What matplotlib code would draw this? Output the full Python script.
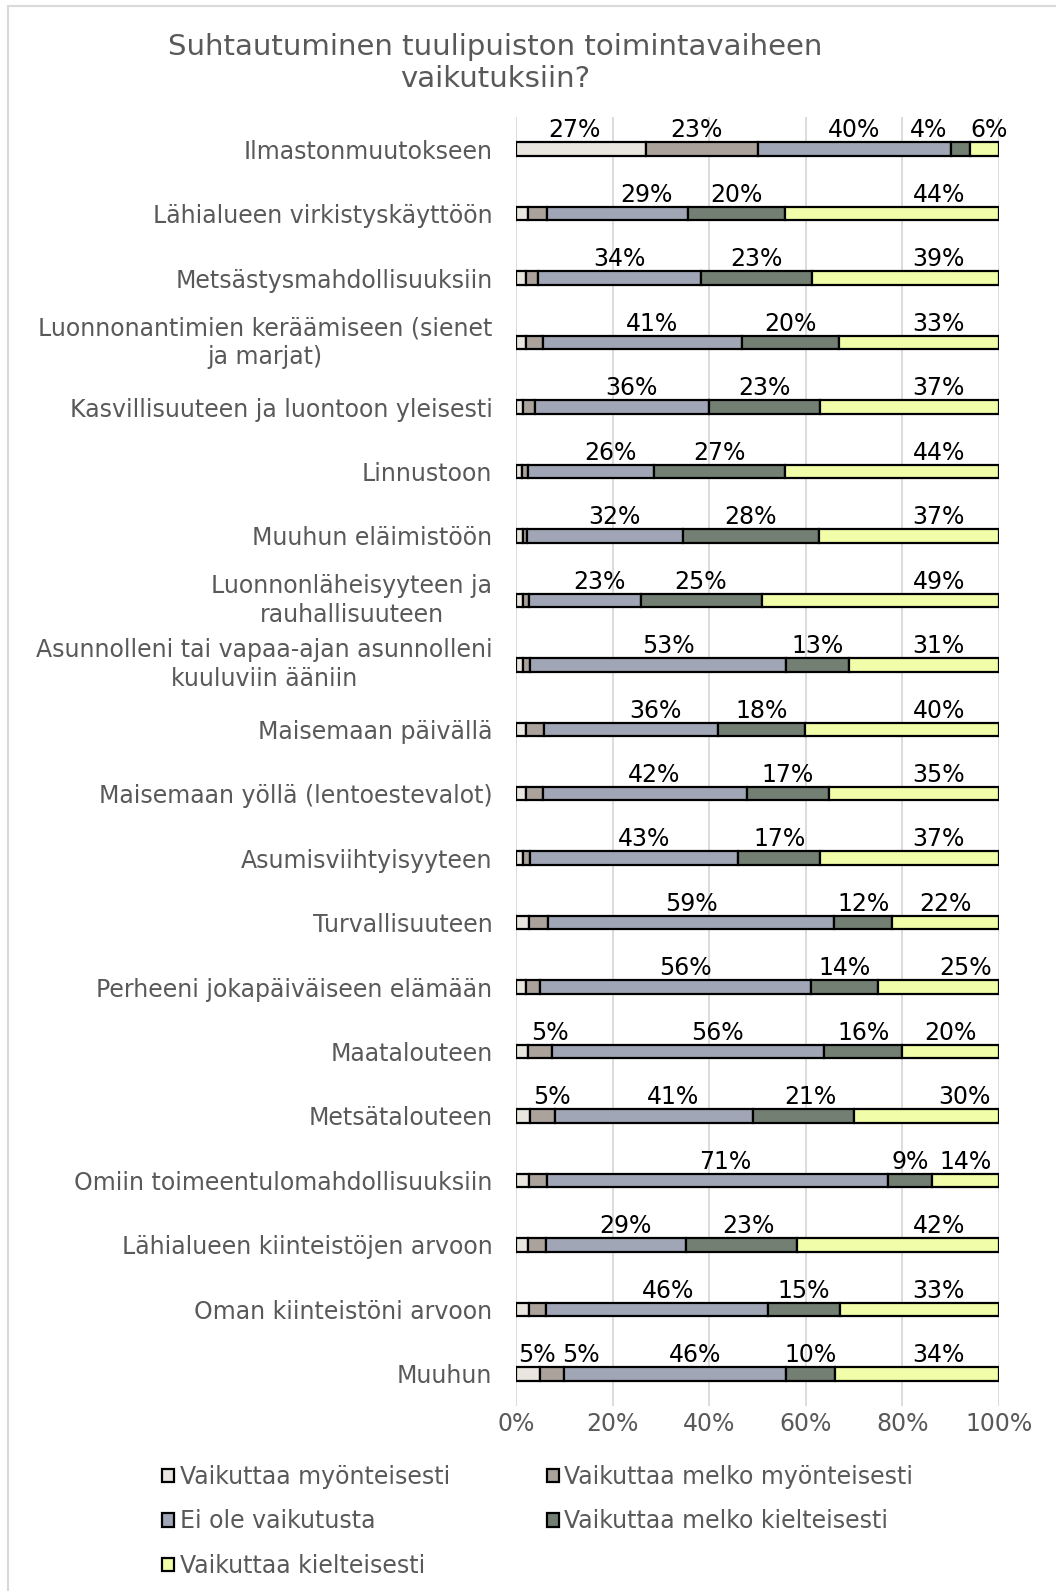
import matplotlib
matplotlib.use("Agg")
import matplotlib.pyplot as plt
from matplotlib.patches import Patch, Rectangle

plt.rcParams['font.family'] = ['DejaVu Sans']

# categories, top to bottom
categories = [
    "Ilmastonmuutokseen",
    "Lähialueen virkistyskäyttöön",
    "Metsästysmahdollisuuksiin",
    "Luonnonantimien keräämiseen (sienet\nja marjat)",
    "Kasvillisuuteen ja luontoon yleisesti",
    "Linnustoon",
    "Muuhun eläimistöön",
    "Luonnonläheisyyteen ja\nrauhallisuuteen",
    "Asunnolleni tai vapaa-ajan asunnolleni\nkuuluviin ääniin",
    "Maisemaan päivällä",
    "Maisemaan yöllä (lentoestevalot)",
    "Asumisviihtyisyyteen",
    "Turvallisuuteen",
    "Perheeni jokapäiväiseen elämään",
    "Maatalouteen",
    "Metsätalouteen",
    "Omiin toimeentulomahdollisuuksiin",
    "Lähialueen kiinteistöjen arvoon",
    "Oman kiinteistöni arvoon",
    "Muuhun",
]

series_names = [
    "Vaikuttaa myönteisesti",
    "Vaikuttaa melko myönteisesti",
    "Ei ole vaikutusta",
    "Vaikuttaa melko kielteisesti",
    "Vaikuttaa kielteisesti",
]

# percentages per category
myonteisesti = [27, 2.5, 2, 2, 1.5, 1.2, 1.4, 1.5, 1.5, 2, 2, 1.5, 2.7, 2, 2.5, 3, 2.6, 2.5, 2.6, 5]
melko_myonteisesti = [23, 3.9, 2.5, 3.5, 2.5, 1.2, 0.8, 1.2, 1.5, 3.8, 3.5, 1.5, 3.9, 3, 5, 5, 3.8, 3.8, 3.7, 5]
ei_vaikutusta = [40, 29, 34, 41, 36, 26, 32, 23, 53, 36, 42, 43, 59, 56, 56, 41, 71, 29, 46, 46]
melko_kielteisesti = [4, 20, 23, 20, 23, 27, 28, 25, 13, 18, 17, 17, 12, 14, 16, 21, 9, 23, 15, 10]
kielteisesti = [6, 44, 39, 33, 37, 44, 37, 49, 31, 40, 35, 37, 22, 25, 20, 30, 14, 42, 33, 34]

colors = ["#e9e6e0", "#aba29c", "#a0a6b6", "#727f72", "#f1fda9"]
grey = "#595959"

# hand-placed labels in the original: (row, segment) -> shift in %
label_nudge = {
    (0, 0): -1.5, (0, 1): -1.2, (0, 3): -6.5, (0, 4): 1,
    (1, 2): 6, (3, 2): 2, (4, 2): 2, (5, 2): 4, (6, 2): 2, (7, 2): 3,
    (8, 2): 2, (9, 2): 5, (10, 2): 2, (11, 2): 2, (13, 2): 2, (14, 2): 6,
    (15, 2): 4, (15, 3): 1.5, (16, 2): 1.6, (17, 2): 2, (17, 3): 1.4,
    (18, 2): 2.3, (19, 2): 4,
    (13, 4): 5.5, (15, 4): 5.4,
    (14, 1): 2, (15, 1): 2, (19, 0): 1.8, (19, 1): 6,
}

series = [myonteisesti, melko_myonteisesti, ei_vaikutusta, melko_kielteisesti, kielteisesti]

W, H = 1056, 1591
fig = plt.figure(figsize=(W / 100, H / 100), dpi=100)
ax = fig.add_axes([516 / W, 1 - 1406 / H, 483 / W, 1289 / H])

n = len(categories)
ypos = list(range(n))
bar_h = 0.21
fs = 17

left = [0.0] * n
for k, vals in enumerate(series):
    totals = [sum(s[i] for s in series) for i in range(n)]
    widths = [vals[i] / totals[i] * 100 for i in range(n)]
    ax.barh(ypos, widths, left=left, height=bar_h, color=colors[k],
            edgecolor="black", linewidth=1.6, zorder=3)
    for i in range(n):
        if vals[i] >= 4:
            cx = left[i] + widths[i] / 2
            if k == 4:
                cx = max(cx, 87.5)
            cx += label_nudge.get((i, k), 0)
            ax.annotate(f"{round(vals[i])}%", (cx, i - bar_h / 2),
                        xytext=(0, 0), textcoords="offset points",
                        ha="center", va="bottom", fontsize=fs, color="black")
    left = [left[i] + widths[i] for i in range(n)]

ax.set_xlim(0, 100)
ax.set_ylim(n - 0.5, -0.5)
ax.set_xticks(range(0, 101, 20))
ax.set_xticklabels([f"{t}%" for t in range(0, 101, 20)])
ax.set_yticks(ypos)
ax.set_yticklabels(categories, multialignment="center", linespacing=1.25)
for lab in ax.get_yticklabels():
    if "\n" in lab.get_text():
        lab.set_va("center")
ax.tick_params(axis="both", length=0, labelsize=fs, colors=grey)
ax.tick_params(axis="y", pad=17)
ax.tick_params(axis="x", pad=4)
ax.grid(axis="x", color="#d9d9d9", linewidth=1.3, zorder=0)
for sp in ax.spines.values():
    sp.set_visible(False)

fig.text(495 / W, 1 - 63 / H, "Suhtautuminen tuulipuiston toimintavaiheen\nvaikutuksiin?",
         ha="center", va="center", fontsize=21, color=grey, linespacing=1.2)

handles = [Patch(facecolor=c, edgecolor="black", linewidth=1.6) for c in colors]
order = [0, 2, 4, 1, 3]
fig.legend([handles[i] for i in order], [series_names[i] for i in order],
           loc="upper left", bbox_to_anchor=(162 / W, 1 - 1465 / H), ncol=2,
           frameon=False, fontsize=fs, labelcolor=grey, borderpad=0, borderaxespad=0,
           handlelength=0.5, handleheight=0.5, handletextpad=0.25,
           columnspacing=4.1, labelspacing=0.86)

# chart border (only left/top edges visible in the crop)
fig.patches.append(Rectangle((8 / W, -0.1), 1.2, 1 - 6 / H + 0.1, transform=fig.transFigure,
                             fill=False, edgecolor="#d9d9d9", linewidth=1.5))

fig.savefig("out.png", dpi=100)
